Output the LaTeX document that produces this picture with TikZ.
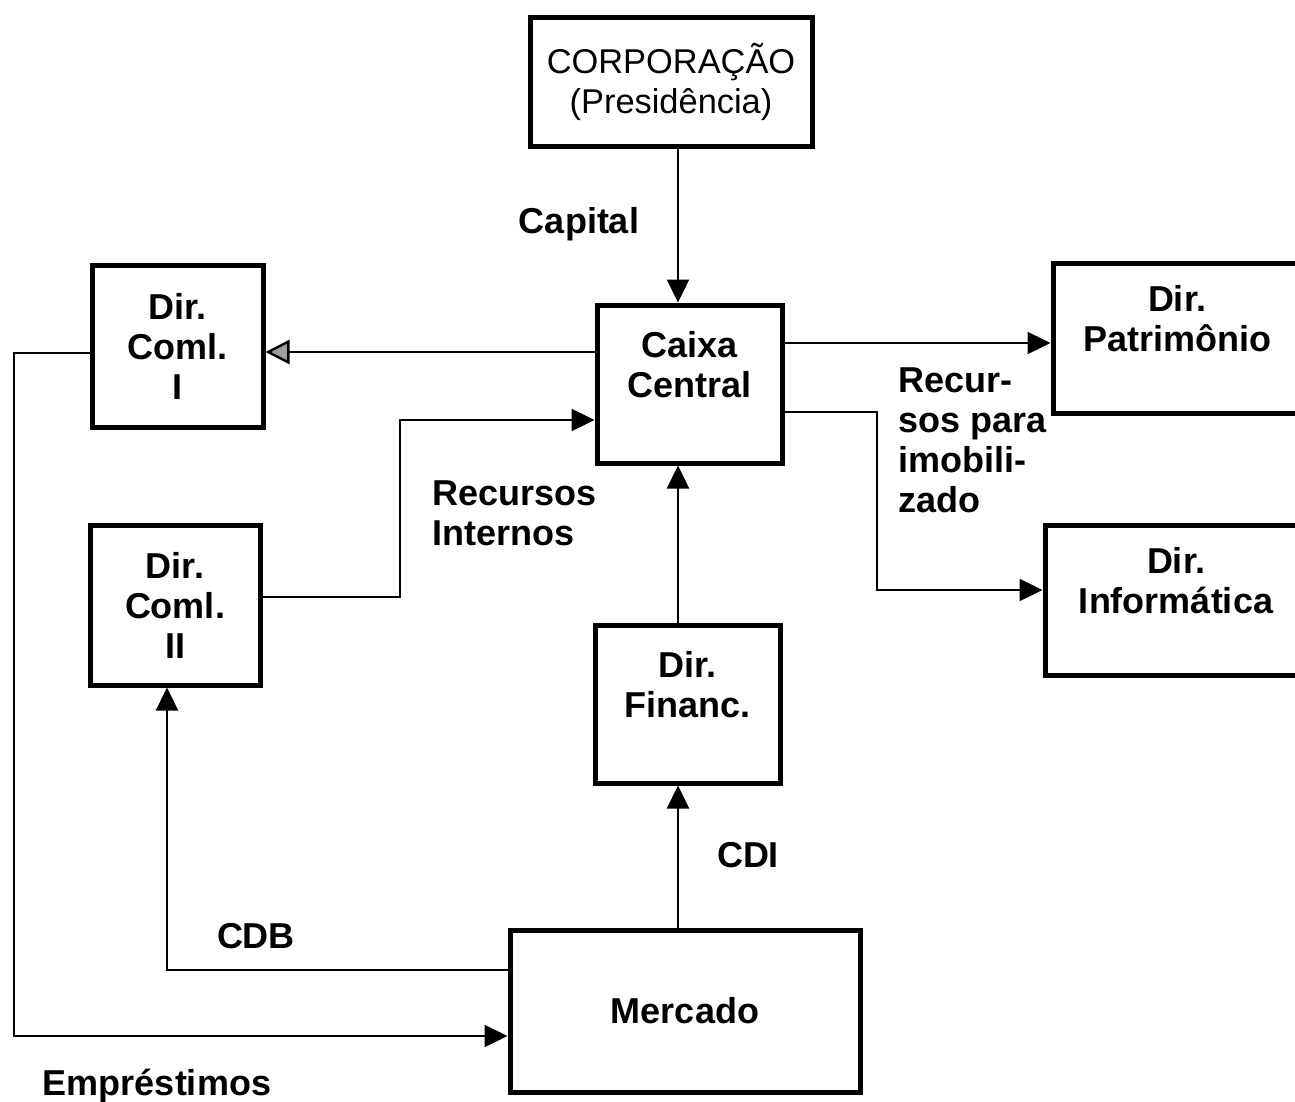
\documentclass[tikz,border=0pt]{standalone}
\usepackage{fontspec}
\setmainfont{Liberation Sans}
\usetikzlibrary{arrows.meta}
\tikzset{
    %Define standard arrow tip
    >={Triangle[length=11.5pt,width=11pt]},
    %Define style for boxes
    dirbox/.style={
           rectangle,
           draw=black, line width=2.5pt,
           inner sep=0pt,
           font=\fontsize{18}{20}\selectfont\bfseries,
           text centered,
           align=center},
    % Define style for flow labels
    flow/.style={
           inner sep=0pt,
           font=\fontsize{18}{20}\selectfont\bfseries,
           align=left},
    % Define arrow style
    pil/.style={
           ->,
           line width=1.2pt},
    greypil/.style={
           -{Triangle[length=12pt,width=12pt,fill=gray!75]},
           line width=1.2pt},
    plain/.style={line width=1.2pt}
}

\begin{document}
\begin{tikzpicture}[x=0.5pt,y=-0.5pt]
\useasboundingbox (0,0) rectangle (1295,1102);
\clip (0,0) rectangle (1295,1102);
% boxes
\node[dirbox, minimum width=141pt, minimum height=64.5pt,
      font=\fontsize{17.2}{20}\selectfont] (corp) at (671,82) {CORPORAÇÃO\\(Presidência)};
\node[dirbox, minimum width=92.5pt, minimum height=79pt] (caixa) at (689.5,384) {Caixa\\Central\\~};
\node[dirbox, minimum width=85.5pt, minimum height=81pt] (coml1) at (177.5,346) {Dir.\\Coml.\\I};
\node[dirbox, minimum width=85pt, minimum height=80pt] (coml2) at (175,605) {Dir.\\Coml.\\II};
\node[dirbox, minimum width=124pt, minimum height=75pt] (patr) at (1177,338) {Dir.\\Patrimônio\\~};
\node[dirbox, minimum width=131pt, minimum height=75pt] (info) at (1176,600) {Dir.\\Informática\\~};
\node[dirbox, minimum width=92.5pt, minimum height=79pt] (fin) at (687.5,704) {Dir.\\Financ.\\~};
\node[dirbox, minimum width=175pt, minimum height=81pt] (merc) at (685,1011) {Mercado};
% labels
\node[flow] (capital) at (579,224) {Capital};
\node[flow, anchor=west] (imob) at (898,440) {Recur-\\sos para\\imobili-\\zado};
\node[flow, anchor=west] (internos) at (432,513) {Recursos\\Internos};
\node[flow] (cdi) at (748,855) {CDI};
\node[flow] (cdb) at (256,936) {CDB};
\node[flow] (emprest) at (157,1086) {Empréstimos};
% bends
\coordinate (axis) at (678,0);
\coordinate (b1) at (877,500);
\coordinate (b2) at (400,500);
\coordinate (b3) at (14,700);
% connectors
\draw[pil] (corp.south -| axis) -- (caixa.north -| axis);
\draw[greypil] ([yshift=16pt]caixa.west) -- ([yshift=16pt]caixa.west -| coml1.east);
\draw[pil] ([yshift=20.5pt]caixa.east) -- ([yshift=20.5pt]caixa.east -| patr.west);
\draw[pil] ([yshift=-14pt]caixa.east) -| (b1) |- ([yshift=5pt]info.west);
\draw[pil] ([yshift=4pt]coml2.east) -| (b2) |- ([yshift=-18pt]caixa.west);
\draw[pil] (fin.north -| axis) -- (caixa.south -| axis);
\draw[pil] (merc.north -| axis) -- (fin.south -| axis);
\draw[pil] ([yshift=20.5pt]merc.west) -| ([xshift=-4pt]coml2.south);
\draw[pil] ([yshift=-3.5pt]coml1.west) -| (b3) |- ([yshift=-12.5pt]merc.west);
\end{tikzpicture}
\end{document}
